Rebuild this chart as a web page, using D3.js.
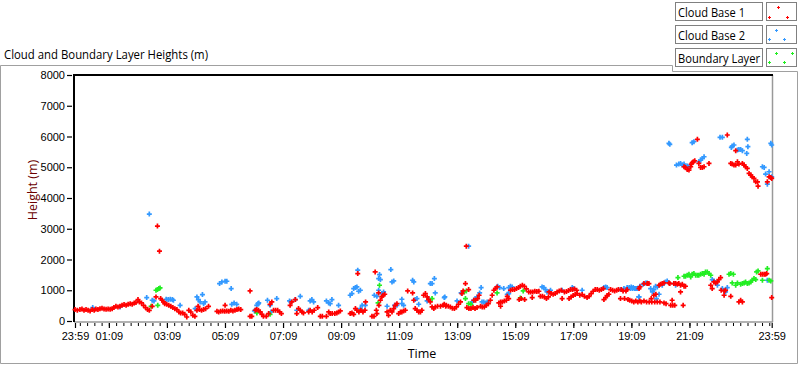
<!DOCTYPE html>
<html><head><meta charset="utf-8">
<script src="https://cdn.jsdelivr.net/npm/d3@7"></script>
<style>
html,body{margin:0;padding:0;background:#fff;}
svg{display:block;}
text{font-family:"Open Sans","Noto Sans",Arial,sans-serif;}
.tick text{font-family:"Liberation Sans",Arial,sans-serif;font-size:11px;fill:#000;}
</style></head>
<body>
<svg id="chart" width="800" height="365"></svg>
<script>
// ---- data: [hours since 23:59, height in m] ----
const cloudBase1 = [
[0.00,370],[0.08,348],[0.17,370],[0.24,391],[0.31,348],[0.38,370],[0.45,348],[0.52,326],[0.59,370],[0.66,348],[0.72,391],[0.79,370],[0.86,402],[0.93,413],[1.00,391],[1.07,380],[1.14,391],[1.21,380],[1.28,402],[1.34,435],[1.41,478],[1.48,457],[1.55,478],[1.62,511],[1.69,533],[1.76,511],[1.83,543],[1.90,565],[1.97,543],[2.04,587],[2.10,598],[2.17,696],[2.22,620],[2.29,587],[2.36,511],[2.43,435],[2.50,370],[2.56,348],[2.66,478],[2.79,783],[2.84,3087],[2.91,2272],[2.95,728],[3.00,674],[3.05,620],[3.09,565],[3.16,543],[3.23,511],[3.30,478],[3.37,435],[3.44,402],[3.51,370],[3.58,293],[3.64,261],[3.71,261],[3.78,217],[3.85,130],[3.92,348],[3.99,293],[4.06,185],[4.13,152],[4.20,348],[4.24,478],[4.29,370],[4.36,348],[4.43,370],[4.50,402],[4.60,478],[4.89,315],[4.95,293],[5.02,315],[5.09,326],[5.16,315],[5.17,511],[5.23,326],[5.30,315],[5.37,348],[5.44,326],[5.51,348],[5.58,370],[5.64,391],[5.71,370],
[6.03,978],[6.03,153],[6.09,153],[6.21,349],[6.26,371],[6.32,349],[6.38,294],[6.44,218],[6.49,153],[6.59,153],[6.67,240],[6.72,544],[6.78,620],[6.84,349],[6.91,349],[6.98,349],[7.05,294],[7.11,240],[7.41,511],[7.47,620],[7.59,696],[7.64,240],[7.70,403],[7.76,349],[7.82,294],[7.87,262],[8.05,294],[8.10,349],[8.17,294],[8.24,349],[8.36,435],[8.45,153],[8.52,153],[8.66,153],[8.74,294],[8.79,240],[8.86,240],[8.95,240],[9.02,262],[9.08,294],[9.14,327],[9.48,240],[9.54,262],[9.60,218],[9.66,403],[9.71,349],[9.74,1543],[9.78,294],[9.85,349],[9.92,294],[9.99,349],[10.01,620],[10.23,153],[10.30,153],[10.34,1597],[10.38,349],[10.40,240],[10.46,913],[10.47,511],[10.52,674],[10.57,783],[10.61,837],[10.67,870],[10.75,294],[10.80,186],[10.86,349],[10.92,294],[10.98,403],[11.03,511],[11.09,565],[11.15,240],[11.21,294],[11.26,294],[11.32,327],[11.38,349],[11.46,978],[11.63,913],[11.67,674],[11.72,403],[11.78,349],[11.84,294],[11.90,294],[11.95,349],[12.01,837],[12.07,891],[12.13,783],[12.18,696],[12.24,620],[12.30,457],[12.36,403],[12.41,457],[12.49,479],[12.59,479],[12.68,511],[12.77,479],[12.86,479],
[12.72,544],[12.79,511],[12.93,457],[13.00,414],[13.07,403],[13.14,457],[13.21,544],[13.28,620],[13.33,891],[13.37,978],[13.45,1216],[13.48,2432],[13.50,435],[13.56,1021],[13.57,403],[13.64,403],[13.71,435],[13.74,674],[13.78,403],[13.80,674],[13.85,435],[13.87,729],[13.92,837],[13.97,479],[14.03,457],[14.10,457],[14.17,511],[14.24,565],[14.31,674],[14.37,837],[14.43,1000],[14.48,1054],[14.54,1108],[14.60,587],[14.66,620],[14.66,479],[14.72,620],[14.79,652],[14.86,674],[14.89,804],[14.94,729],[15.00,1000],[15.07,1021],[15.14,1021],[15.21,1054],[15.28,1086],[15.30,696],[15.34,1130],[15.37,729],[15.41,1163],[15.48,1130],[15.49,696],[15.55,1043],[15.63,946],[15.70,946],[15.77,946],[15.75,761],[15.84,967],[15.91,957],[15.98,967],[16.03,804],[16.10,804],[16.17,783],[16.24,729],[16.31,783],[16.33,946],[16.40,891],[16.47,870],[16.54,891],[16.61,946],[16.68,978],[16.75,1000],[16.78,729],[16.86,946],[16.93,957],[17.00,989],[17.02,729],[17.07,1021],[17.09,783],[17.14,1021],[17.16,826],[17.21,1043],[17.23,859],[17.28,1000],[17.30,891],[17.39,837],[17.47,859],[17.55,804],[17.64,761],[17.71,804],[17.78,891],[17.85,967],[17.92,1021],[17.99,1021],[18.06,1000],[18.13,1021],[18.20,1054],[18.22,696],[18.28,761],[18.33,826],[18.39,870],[18.45,1021],[18.52,1000],[18.59,978],[18.66,1000],[18.72,1021],[18.79,729],[18.82,1021],[18.88,978],[18.93,729],[18.98,978],[19.02,1021],[19.05,696],[19.11,674],[19.18,652],[19.25,620],[19.32,652],[19.39,620],[19.43,1054],[19.46,652],[19.46,1108],
[19.51,620],[19.60,652],[19.60,1217],[19.69,620],[19.71,1217],[19.77,1217],[19.78,620],[19.85,729],[19.87,620],[19.94,837],[19.97,620],[20.01,870],[20.06,620],[20.12,1163],[20.15,620],[20.17,1195],[20.23,1217],[20.29,1239],[20.29,587],[20.36,565],[20.46,1239],[20.49,1217],[20.52,511],[20.57,674],[20.59,511],[20.63,1217],[20.66,511],[20.69,1217],[20.75,1195],[20.80,1217],[20.86,1163],[20.86,946],[20.92,1195],[20.95,511],[20.98,1130],[21.03,1130],[20.98,5016],[21.03,4995],[21.09,4930],[21.15,4908],[21.21,5016],[21.23,5103],[21.26,5146],[21.30,5179],[21.35,5212],[21.44,5907],[21.49,5125],[21.55,4995],[21.61,4995],[21.67,5016],[21.84,5125],[21.90,1163],[21.95,1054],[22.01,1271],[22.07,1239],[22.13,1271],[22.18,1347],[22.24,1412],[22.26,1000],[22.36,978],[22.41,1000],[22.36,837],[22.59,804],[22.47,6048],[22.59,5125],[22.64,5103],[22.70,5071],[22.76,5538],[22.76,5071],[22.82,5179],[22.87,5103],[22.87,620],[22.93,674],[22.99,620],[22.99,5125],[23.05,5071],[23.10,5016],[23.16,4962],[23.22,4799],[23.28,4745],[23.33,4690],[23.39,4636],[23.45,4527],[23.51,4527],[23.53,4386],[23.62,1521],[23.68,1521],[23.74,1521],[23.79,1521],[23.83,1543],[23.85,4527],[23.91,4690],[23.97,4668],[24.00,4636],[24.00,761]
];
const cloudBase2 = [
[0.61,435],[1.55,457],[2.47,761],[2.56,3478],[2.66,674],[2.72,652],[3.14,707],[3.21,696],[3.28,707],[3.35,696],[3.39,674],[3.62,511],[4.14,402],[4.20,783],[4.25,696],[4.31,620],[4.39,859],[4.43,565],[4.48,620],[4.98,1217],[5.06,1272],[5.17,1293],[5.23,1293],[5.38,1054],[5.40,543],[5.48,587],[5.57,543],[6.18,326],[6.32,565],
[6.21,349],[6.26,511],[6.30,565],[6.33,587],[6.63,674],[6.72,511],[6.75,294],[6.95,729],[7.39,652],[7.44,620],[7.59,696],[7.64,349],[7.76,804],[8.05,349],[8.10,652],[8.16,696],[8.22,620],[8.66,652],[8.74,587],[8.79,565],[8.85,696],[9.08,511],[9.48,837],[9.54,891],[9.60,1054],[9.66,1086],[9.71,1108],[9.74,1652],[9.77,967],[9.83,1000],[9.83,403],[9.89,511],[10.00,511],[10.31,837],[10.40,804],[10.46,1000],[10.46,1380],[10.49,1510],[10.52,1347],[10.57,891],[10.63,946],[10.75,479],[10.88,1673],[10.92,1271],[10.98,1304],[11.01,511],[11.09,511],[11.26,707],[11.26,565],[11.32,511],[11.63,1325],[11.67,1271],[11.72,696],[11.78,729],[11.84,544],[12.13,652],[12.18,729],[12.24,1217],[12.30,1217],[12.38,1380],[12.41,913],[12.74,783],
[12.72,761],[13.16,652],[13.30,913],[13.56,2432],[13.68,620],[13.74,674],[13.79,729],[13.85,783],[13.94,913],[13.99,1086],[14.02,620],[14.08,620],[14.14,587],[14.20,620],[14.56,1130],[14.63,1086],[14.77,1054],[14.89,870],[14.94,891],[14.94,1086],[15.00,1130],[15.06,1108],[16.09,1108],[16.15,1086],[16.21,1021],[16.26,946],[16.38,1000],[16.78,1000],[17.13,1086],[17.18,1054],[17.47,1000],[18.22,1086],[18.28,1108],[18.33,1086],[18.79,1021],[18.91,1054],[19.02,1086],[19.09,1086],[19.16,1108],[19.23,1086],[19.30,1054],[19.37,1054],[19.43,783],
[19.14,1054],[19.21,1054],[19.28,1054],[19.34,1054],[19.42,783],[19.46,1130],[19.57,1195],[19.66,1239],[19.71,1239],[19.83,1054],[19.89,946],[19.94,1021],[20.00,1130],[20.03,729],[20.06,1108],[20.12,870],[20.23,1163],[20.34,1271],[20.40,1304],[20.46,5777],[20.49,5744],[20.63,1217],[20.69,1163],[20.72,5071],[20.80,5103],[20.86,5125],[20.92,5071],[20.98,5103],[21.09,5038],[21.15,5016],[21.26,5798],[21.32,5831],[21.49,5179],[21.55,5234],[21.61,5288],[21.67,5342],[21.95,1347],[22.01,1304],[22.07,1239],[22.13,1163],[22.22,5972],[22.30,5972],[22.30,1054],[22.41,946],[22.47,1086],[22.61,5646],[22.64,5690],[22.70,5723],[22.82,5560],[22.87,5581],[22.93,5581],[22.99,5538],[23.14,5451],[23.16,5907],[23.18,5668],[23.68,5016],[23.74,4995],[23.79,4777],[23.85,4451],[23.91,4853],[23.85,1326],[23.97,5777],[24.00,5723],[24.00,4690]
];
const boundaryLayer = [
[2.62,478],[2.79,1000],[2.84,1022],[2.89,1054],[2.93,1076],[2.85,511],[6.265,261],[6.72,218],[10.44,587],[10.49,1163],[12.30,729],
[13.41,946],[13.48,978],[13.45,729],[13.56,565],[13.64,544],[14.54,913],[15.44,978],[15.34,750],
[20.77,1412],[20.98,1456],[21.03,1456],[21.09,1488],[21.15,1521],[21.21,1434],[21.26,1521],[21.32,1543],[21.38,1488],[21.44,1488],[21.49,1488],[21.55,1521],[21.61,1543],[21.67,1521],[21.72,1597],[21.78,1597],[21.84,1543],[21.90,1488],[22.53,1521],[22.59,1543],[22.68,1521],[22.64,1239],[22.76,1163],[22.82,1239],[22.93,1195],[22.99,1217],[23.05,1239],[23.10,1271],[23.16,1217],[23.22,1239],[23.28,1271],[23.33,1326],[23.39,1380],[23.45,1347],[23.48,1597],[23.53,1630],[23.68,1326],[23.85,1706],[23.91,1326],[23.97,1304]
];
const yTicks = [0,1000,2000,3000,4000,5000,6000,7000,8000];
const xTickMinutes = [0,70,190,310,430,550,670,790,910,1030,1150,1270,1440];
const xTickLabels = ["23:59","01:09","03:09","05:09","07:09","09:09","11:09","13:09","15:09","17:09","19:09","21:09","23:59"];
const seriesNames = ["Cloud Base 1","Cloud Base 2","Boundary Layer"];
const seriesColors = ["#ff0000","#3399ff","#22ee22"];

// ---- drawing ----
const svg = d3.select("#chart");
const x = d3.scaleLinear().domain([0,24]).range([75,771.7]);
const y = d3.scaleLinear().domain([0,8000]).range([321,75]);
const frameGray = "#a0a0a0";

// outer frame
svg.append("path")
  .attr("d","M0.5,363.5V65.5H672.5V71.5H797.5V363.5Z")
  .attr("fill","none").attr("stroke",frameGray).attr("stroke-width",1);

// title
svg.append("text").attr("x",4).attr("y",59).attr("font-size",12).attr("fill","#000")
  .attr("textLength",204).attr("lengthAdjust","spacingAndGlyphs")
  .text("Cloud and Boundary Layer Heights (m)");

// plot area
svg.append("rect").attr("x",75).attr("y",75).attr("width",697).attr("height",246).attr("fill","#fff");
svg.append("line").attr("x1",772.5).attr("x2",772.5).attr("y1",75).attr("y2",322).attr("stroke","#999").attr("stroke-width",1.5);
svg.append("line").attr("x1",74).attr("x2",773).attr("y1",322).attr("y2",322).attr("stroke","#999").attr("stroke-width",1.5);
svg.append("line").attr("x1",74).attr("x2",74).attr("y1",74).attr("y2",322).attr("stroke","#000").attr("stroke-width",2);
svg.append("line").attr("x1",73).attr("x2",773).attr("y1",75).attr("y2",75).attr("stroke","#000").attr("stroke-width",2);

// y axis
const yAxis = svg.append("g").attr("transform","translate(72,0)")
  .call(d3.axisLeft(y).tickValues(yTicks).tickSize(5).tickPadding(2).tickFormat(d3.format("d")));
yAxis.select(".domain").remove();
yAxis.selectAll(".tick line").attr("stroke","#000").attr("stroke-width",1.2);

// x axis minor ticks
const minor = [];
for (let m = 10; m < 1440; m += 15) minor.push(m/60);
const xMinor = svg.append("g").attr("transform","translate(0,323)")
  .call(d3.axisBottom(x).tickValues(minor).tickSize(3).tickFormat(""));
xMinor.select(".domain").remove();
xMinor.selectAll(".tick line").attr("stroke","#000");
// major
const xAxis = svg.append("g").attr("transform","translate(0,323)")
  .call(d3.axisBottom(x).tickValues(xTickMinutes.map(m=>m/60)).tickSize(5).tickPadding(4)
    .tickFormat((d,i)=>xTickLabels[i]));
xAxis.select(".domain").remove();
xAxis.selectAll(".tick line").attr("stroke","#000").attr("stroke-width",1.2);
xAxis.selectAll(".tick text").attr("dy","0.71em").attr("y",9);

// axis titles
svg.append("text").attr("x",422).attr("y",358).attr("text-anchor","middle").attr("font-size",12.5).attr("fill","#000").text("Time");
svg.append("text").attr("transform","translate(37,190) rotate(-90)").attr("text-anchor","middle")
  .attr("font-size",12.5).attr("fill","#6b0000").text("Height (m)");

// markers
const cross = "M-2.5,0H2.5M0,-2.5V2.5";
function drawSeries(data,color){
  svg.append("g").selectAll("path").data(data).join("path")
    .attr("transform",d=>`translate(${x(d[0])},${y(d[1])})`)
    .attr("d",cross).attr("stroke",color).attr("stroke-width",1.7).attr("fill","none");
}
drawSeries(cloudBase2, seriesColors[1]);
drawSeries(boundaryLayer, seriesColors[2]);
drawSeries(cloudBase1, seriesColors[0]);

// legend
const legendRows = [2,25,48];
const sampleCrosses = [
  [[12.5,5.5],[3.5,15.5],[21.5,15.5]],
  [[10.5,5.5],[3.5,14.5],[18.5,14.5]],
  [[10.5,5.5],[26.5,5.5],[3.5,14.5],[18.5,14.5]]
];
seriesNames.forEach((name,i)=>{
  const g = svg.append("g").attr("transform",`translate(0,${legendRows[i]})`);
  g.append("rect").attr("x",675.5).attr("y",0.5).attr("width",87).attr("height",18)
    .attr("fill","#fff").attr("stroke","#808080");
  g.append("text").attr("x",678).attr("y",14.5).attr("font-size",13).attr("fill","#000")
    .attr("textLength", i===2?82:67).attr("lengthAdjust","spacingAndGlyphs").text(name);
  g.append("rect").attr("x",766.5).attr("y",0.5).attr("width",30).attr("height",18)
    .attr("fill","#fff").attr("stroke","#808080");
  sampleCrosses[i].forEach(p=>{
    g.append("path").attr("transform",`translate(${766+p[0]},${p[1]})`)
      .attr("d","M-1.5,0H1.5M0,-1.5V1.5").attr("stroke",seriesColors[i]).attr("stroke-width",1);
  });
});
</script>
</body></html>
